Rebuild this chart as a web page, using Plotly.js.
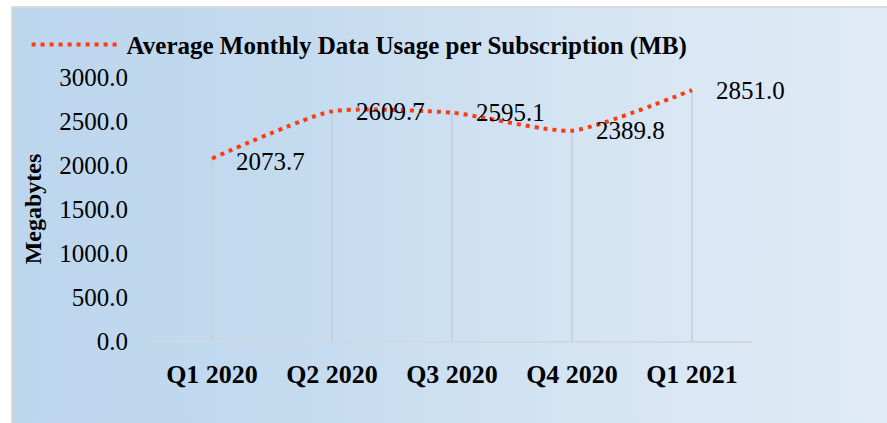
<!DOCTYPE html>
<html>
<head>
<meta charset="utf-8">
<script src="https://cdn.plot.ly/plotly-3.0.1.min.js"></script>
<style>
html,body{margin:0;padding:0;background:#ffffff;}
#wrap{position:relative;width:887px;height:423px;overflow:hidden;background:#ffffff;}
#bg{position:absolute;left:11px;top:6px;width:900px;height:430px;border-left:2px solid #d9d9d9;border-top:2px solid #d9d9d9;
background:linear-gradient(to right,#bcd6ed 0%,#c3daef 30%,#d0e2f2 55%,#dae7f4 75%,#dfeaf5 100%);}
#chart{position:absolute;left:0;top:0;width:887px;height:423px;}
</style>
</head>
<body>
<div id="wrap"><div id="bg"></div><div id="chart"></div></div>
<script>
const quarters = ["Q1 2020", "Q2 2020", "Q3 2020", "Q4 2020", "Q1 2021"];
const usageMB = [2073.7, 2609.7, 2595.1, 2389.8, 2851.0];
const zeros = [0, 0, 0, 0, 0];
const seriesName = "Average Monthly Data Usage per Subscription (MB)";
const yTicks = [0, 500, 1000, 1500, 2000, 2500, 3000];

const serif = "'Liberation Serif', 'Times New Roman', serif";

const trace = {
  x: quarters,
  y: usageMB,
  type: "scatter",
  mode: "lines",
  name: seriesName,
  line: {color: "#ff3a10", width: 4, dash: "4px,5px", shape: "spline", smoothing: 0.55},
  error_y: {type: "data", symmetric: false, array: zeros, arrayminus: usageMB, color: "#c5ced8", thickness: 1.5, width: 0},
  hoverinfo: "skip"
};

const annotations = quarters.map((q, i) => ({
  x: q, y: usageMB[i], xref: "x", yref: "y",
  text: usageMB[i].toFixed(1),
  showarrow: false, xanchor: "left", yanchor: "middle",
  xshift: 22, yshift: i === 0 ? -3 : 0,
  font: {family: serif, size: 25, color: "#000000"}
}));

const layout = {
  width: 887, height: 423,
  paper_bgcolor: "rgba(0,0,0,0)",
  plot_bgcolor: "rgba(0,0,0,0)",
  margin: {l: 152, r: 135, t: 77, b: 82, pad: 0},
  showlegend: true,
  legend: {
    x: 0.03, y: 0.894, xref: "container", yref: "container", xanchor: "left", yanchor: "middle",
    orientation: "h", itemwidth: 90,
    font: {family: serif, size: 25, color: "#000000", weight: "bold"},
    bgcolor: "rgba(0,0,0,0)"
  },
  xaxis: {
    type: "category",
    range: [-0.5, 4.5],
    showgrid: false, zeroline: false,
    showline: true, linecolor: "#d4d8dc", linewidth: 2,
    ticks: "outside", ticklen: 9, tickcolor: "rgba(0,0,0,0)",
    tickfont: {family: serif, size: 26, color: "#000000", weight: "bold"}
  },
  yaxis: {
    range: [0, 3000],
    tickvals: yTicks,
    tickformat: ".1f",
    showgrid: false, zeroline: false, showline: false,
    ticks: "outside", ticklen: 18, tickcolor: "rgba(0,0,0,0)",
    tickfont: {family: serif, size: 25, color: "#000000"},
    title: {text: "Megabytes", standoff: 10, font: {family: serif, size: 24, color: "#000000", weight: "bold"}}
  },
  annotations: annotations
};

Plotly.newPlot("chart", [trace], layout, {displayModeBar: false, staticPlot: true});
</script>
</body>
</html>
